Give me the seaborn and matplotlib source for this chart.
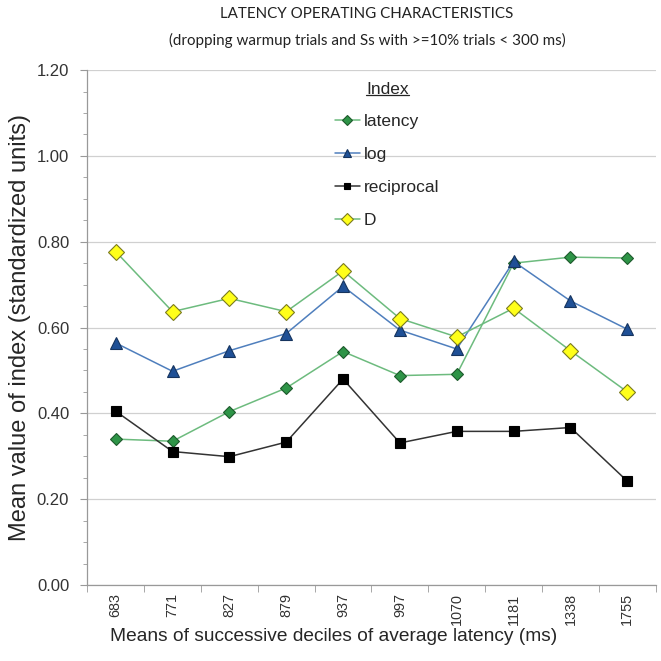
import matplotlib
matplotlib.use("Agg")
import matplotlib.pyplot as plt
import numpy as np
import pandas as pd
import seaborn as sns
from matplotlib.lines import Line2D
from matplotlib.ticker import MultipleLocator, FixedLocator

deciles = ["683", "771", "827", "879", "937", "997", "1070", "1181", "1338", "1755"]
latency = [0.340, 0.335, 0.404, 0.459, 0.544, 0.488, 0.491, 0.750, 0.764, 0.762]
log_vals = [0.564, 0.498, 0.546, 0.586, 0.696, 0.594, 0.550, 0.754, 0.662, 0.596]
reciprocal = [0.405, 0.311, 0.299, 0.333, 0.480, 0.331, 0.358, 0.358, 0.367, 0.242]
d_vals = [0.777, 0.637, 0.668, 0.637, 0.732, 0.621, 0.578, 0.645, 0.546, 0.450]

series = {"latency": latency, "log": log_vals, "reciprocal": reciprocal, "D": d_vals}
styles = {
    "latency": dict(color="#6dbb7e", marker="D", mfc="#2e9447", mec="#1d5a2c", ms=6.5),
    "log": dict(color="#4f7fbd", marker="^", mfc="#1f5096", mec="#16345e", ms=8),
    "reciprocal": dict(color="#333333", marker="s", mfc="#000000", mec="#000000", ms=6.5),
    "D": dict(color="#6dbb7e", marker="D", mfc="#ffff1a", mec="#7a7a20", ms=8),
}

df = pd.DataFrame({"decile": deciles * 4,
                   "value": latency + log_vals + reciprocal + d_vals,
                   "index": sum([[k] * len(deciles) for k in series], [])})

sns.set_style("white")
plt.rcParams["font.family"] = ["Liberation Sans", "DejaVu Sans"]

fig = plt.figure(figsize=(6.61, 6.61), dpi=100)
ax = fig.add_axes([0.132, 0.115, 0.860, 0.779])

handles = []
for name in series:
    st = styles[name]
    sub = df[df["index"] == name]
    sns.lineplot(data=sub, x="decile", y="value", ax=ax, color=st["color"], lw=1.1,
                 marker=st["marker"], markersize=st["ms"], markerfacecolor=st["mfc"],
                 markeredgecolor=st["mec"], markeredgewidth=0.8, sort=False, legend=False)
    handles.append(ax.lines[-1])

ax.set_ylim(0, 1.2)
ax.set_xlim(-0.5, len(deciles) - 0.5)
ax.set_yticks(np.arange(0, 1.21, 0.2))
ax.set_yticklabels([f"{v:.2f}" for v in np.arange(0, 1.21, 0.2)])
ax.yaxis.set_minor_locator(MultipleLocator(0.05))
ax.grid(axis="y", which="major", color="#d0d0d0", lw=0.9)
ax.grid(axis="x", visible=False)

ax.set_xticks(range(len(deciles)))
ax.set_xticklabels(deciles, rotation=90)
ax.xaxis.set_minor_locator(FixedLocator(np.arange(-0.5, len(deciles), 1.0)))
ax.tick_params(axis="x", which="major", length=0, labelsize=10.4, pad=6, colors="#333333")
ax.tick_params(axis="x", which="minor", length=5, direction="out", color="#999999", bottom=True)
ax.tick_params(axis="y", which="major", length=5, direction="out", color="#999999", labelsize=12,
               labelcolor="#333333", left=True, pad=8)
ax.tick_params(axis="y", which="minor", length=3, direction="out", color="#999999", left=True)

for s in ["top", "right"]:
    ax.spines[s].set_visible(False)
for s in ["left", "bottom"]:
    ax.spines[s].set_color("#999999")
    ax.spines[s].set_linewidth(0.9)

ax.set_xlabel("Means of successive deciles of average latency (ms)", fontsize=13.8)
ax.xaxis.set_label_coords(0.433, -0.084)
ax.set_ylabel("Mean value of index (standardized units)", fontsize=17, labelpad=4)

fig.text(0.555, 0.979, "LATENCY OPERATING CHARACTERISTICS", ha="center", va="center",
         fontsize=10.9, family=["Lato", "DejaVu Sans"], color="#222222")
fig.text(0.555, 0.939, "(dropping warmup trials and Ss with >=10% trials < 300 ms)", ha="center",
         va="center", fontsize=10.9, family=["Lato", "DejaVu Sans"], color="#222222")

leg = ax.legend(handles, list(series.keys()), title="Index",
                loc="upper center", bbox_to_anchor=(0.528, 1.008), frameon=False, fontsize=12.5,
                title_fontsize=12.5, labelspacing=1.02, handlelength=1.4, handletextpad=0.25,
                markerscale=0.75)

# underline the legend title
fig.canvas.draw()
bb = leg.get_title().get_window_extent().transformed(fig.transFigure.inverted())
fig.add_artist(Line2D([bb.x0, bb.x1], [bb.y0 + 0.002, bb.y0 + 0.002],
                      transform=fig.transFigure, color="#222222", lw=0.9))

fig.savefig("out.png", dpi=100)
